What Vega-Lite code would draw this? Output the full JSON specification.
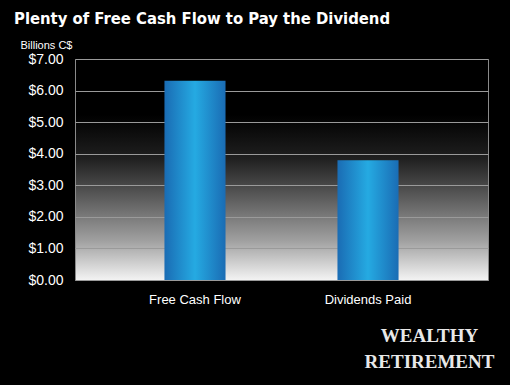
{
  "$schema": "https://vega.github.io/schema/vega-lite/v6.json",
  "autosize": {"type": "none"},
  "width": 413,
  "height": 221,
  "padding": {"left": 75, "top": 59, "right": 22, "bottom": 105},
  "background": "#000000",
  "title": {
    "text": "Plenty of Free Cash Flow to Pay the Dividend",
    "anchor": "start",
    "frame": "group",
    "dx": -61,
    "offset": 12,
    "color": "#ffffff",
    "font": "'DejaVu Sans Condensed', 'Liberation Sans', sans-serif",
    "fontWeight": "bold",
    "fontSize": 16.5
  },
  "config": {
    "view": {
      "stroke": "#8a8a8a",
      "strokeWidth": 1,
      "fill": {
        "gradient": "linear",
        "x1": 0, "y1": 0, "x2": 0, "y2": 1,
        "stops": [
          {"offset": 0, "color": "#000000"},
          {"offset": 0.25, "color": "#000000"},
          {"offset": 0.45, "color": "#202020"},
          {"offset": 0.57, "color": "#484848"},
          {"offset": 0.82, "color": "#a0a0a0"},
          {"offset": 1, "color": "#f4f4f4"}
        ]
      }
    },
    "axis": {
      "domain": false,
      "ticks": false,
      "labelColor": "#ffffff",
      "labelFont": "Liberation Sans",
      "titleColor": "#ffffff"
    }
  },
  "data": {
    "values": [
      {"category": "Free Cash Flow", "value": 6.31},
      {"category": "Dividends Paid", "value": 3.79}
    ]
  },
  "mark": {
    "type": "bar",
    "color": {
      "gradient": "linear",
      "x1": 0, "y1": 0, "x2": 1, "y2": 0,
      "stops": [
        {"offset": 0, "color": "#1a6cb4"},
        {"offset": 0.5, "color": "#25aae2"},
        {"offset": 1, "color": "#1a6cb4"}
      ]
    }
  },
  "encoding": {
    "x": {
      "field": "category",
      "type": "nominal",
      "sort": null,
      "scale": {"paddingInner": 0.647, "paddingOuter": 0.517},
      "axis": {
        "labelAngle": 0,
        "labelFontSize": 13,
        "labelPadding": 13,
        "grid": false,
        "title": ["WEALTHY", "RETIREMENT"],
        "titleFont": "Liberation Serif",
        "titleFontSize": 19,
        "titleFontWeight": "bold",
        "titleColor": "#e8e8e8",
        "titleX": 354,
        "titleY": 61,
        "titleAlign": "center",
        "titleBaseline": "alphabetic",
        "titleLineHeight": 26
      }
    },
    "y": {
      "field": "value",
      "type": "quantitative",
      "scale": {"domain": [0, 7]},
      "axis": {
        "values": [0, 1, 2, 3, 4, 5, 6, 7],
        "format": "$.2f",
        "labelFontSize": 14,
        "labelPadding": 12,
        "grid": true,
        "gridColor": "#9a9a9a",
        "gridWidth": 1,
        "title": "Billions C$",
        "titleFont": "Liberation Sans",
        "titleFontSize": 11,
        "titleFontWeight": "normal",
        "titleAngle": 0,
        "titleX": -55,
        "titleY": -10.5,
        "titleAlign": "left",
        "titleBaseline": "alphabetic"
      }
    }
  }
}
